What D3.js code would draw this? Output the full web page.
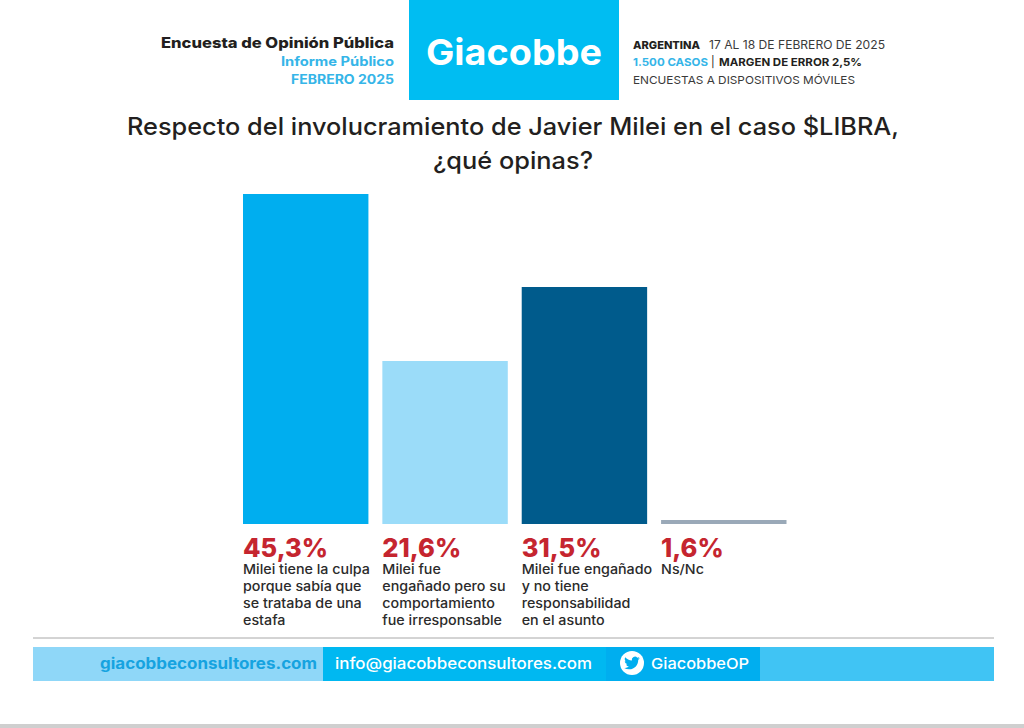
<!DOCTYPE html>
<html><head><meta charset="utf-8">
<script src="https://cdn.jsdelivr.net/npm/d3@7"></script>
<style>html,body{margin:0;padding:0;background:#fff;overflow:hidden}svg{display:block}text{font-family:Inter,Roboto,sans-serif}</style>
</head><body><svg id="c" width="1024" height="728"></svg>
<script>
const categories = ["Milei tiene la culpa|porque sabía que|se trataba de una|estafa","Milei fue|engañado pero su|comportamiento|fue irresponsable","Milei fue engañado|y no tiene|responsabilidad|en el asunto","Ns/Nc"];
const values = [45.3,21.6,31.5,1.6];
const barColors = ["#00aeef","#9bdcf9","#005b8c","#9aa9b8"];
const titleLines = ["Respecto del involucramiento de Javier Milei en el caso $LIBRA,","¿qué opinas?"];
const svg = d3.select("#c");
const fmt = v => String(v).replace(".",",")+"%";

function txt(x,y,s,size,weight,fill,anchor,width){
  const t = svg.append("text").attr("x",x).attr("y",y).attr("font-size",size).attr("font-weight",weight)
    .attr("fill",fill).attr("text-anchor",anchor||"start").text(s);
  if(width) t.attr("textLength",width).attr("lengthAdjust","spacingAndGlyphs");
  return t;
}
// bottom grey strip
svg.append("rect").attr("x",0).attr("y",724).attr("width",1024).attr("height",4).attr("fill","#cfcfcf");

// header
svg.append("rect").attr("x",409).attr("y",0).attr("width",210).attr("height",100).attr("fill","#00bdf2");
txt(426,65,"Giacobbe",36,700,"#fff","start",176);
txt(394,48,"Encuesta de Opinión Pública",14.4,800,"#231f20","end",233);
txt(394,66,"Informe Público",12.8,700,"#35b5e8","end",113);
txt(394,84,"FEBRERO 2025",12.8,700,"#35b5e8","end",103);
txt(633,49,"ARGENTINA",11,800,"#231f20","start",67);
txt(709,49,"17 AL 18 DE FEBRERO DE 2025",11.2,400,"#3a3a3a","start",176);
txt(633,66,"1.500 CASOS",11,700,"#35b5e8","start",75);
txt(711,66,"|",11,400,"#231f20");
txt(719,66,"MARGEN DE ERROR 2,5%",11,700,"#231f20","start",143);
txt(633,84,"ENCUESTAS A DISPOSITIVOS MÓVILES",11,400,"#3a3a3a","start",222);

// title
txt(513,135,titleLines[0],24,500,"#231f20","middle",772);
txt(513,169,titleLines[1],24,500,"#231f20","middle",160);

// bars: the source's bar lengths are not proportional to its labels,
// so the height scale is piecewise through the values as drawn there
const x = d3.scaleBand().domain(d3.range(values.length)).range([243,786.5]).paddingInner(0.1).paddingOuter(0);
const h = d3.scaleLinear().domain([0,1.6,21.6,31.5,45.3]).range([0,4,163,237,330]);
const baseline = 524;
svg.selectAll("rect.bar").data(values).join("rect").attr("class","bar")
  .attr("x",(d,i)=>x(i)).attr("width",x.bandwidth())
  .attr("y",d=>baseline-h(d)).attr("height",d=>h(d))
  .attr("fill",(d,i)=>barColors[i]);
svg.selectAll("text.val").data(values).join("text").attr("class","val")
  .attr("x",(d,i)=>x(i)).attr("y",557).attr("font-size",25.5).attr("font-weight",800)
  .attr("fill","#c5252f").text(fmt);
categories.forEach((c,i)=>{
  c.split("|").forEach((l,j)=>{
    const t = txt(x(i),574+j*16.9,l,13,500,"#2b2b2b");
    t.attr("textLength",t.node().getComputedTextLength()*1.1).attr("lengthAdjust","spacingAndGlyphs");
  });
});

// footer
svg.append("line").attr("x1",33).attr("x2",994).attr("y1",638).attr("y2",638).attr("stroke","#a8a8a8").attr("stroke-width",1);
[[33,323,"#8fd7f8"],[323,606,"#00b8f1"],[606,760,"#00aeef"],[760,994,"#40c4f4"]].forEach(s=>{
  svg.append("rect").attr("x",s[0]).attr("y",647).attr("width",s[1]-s[0]).attr("height",34).attr("fill",s[2]);
});
txt(317,669,"giacobbeconsultores.com",15.3,700,"#16a3e0","end",217);
txt(335,669,"info@giacobbeconsultores.com",15.3,500,"#fff","start",257);
txt(651,669,"GiacobbeOP",15,500,"#fff","start",98);
svg.append("circle").attr("cx",632).attr("cy",663).attr("r",12).attr("fill","#fff");
svg.append("path").attr("transform","translate(624.2,655.2) scale(0.65)").attr("fill","#00aeef")
  .attr("d","M23.95 4.57a10 10 0 0 1-2.82.78 4.96 4.96 0 0 0 2.16-2.72c-.95.55-2 .95-3.12 1.18a4.92 4.92 0 0 0-8.38 4.48C7.69 8.1 4.07 6.13 1.64 3.16a4.93 4.93 0 0 0 1.52 6.57 4.9 4.9 0 0 1-2.23-.62v.06a4.92 4.92 0 0 0 3.95 4.83 5 5 0 0 1-2.21.08 4.94 4.94 0 0 0 4.6 3.42A9.87 9.87 0 0 1 0 19.54a13.94 13.94 0 0 0 7.55 2.21c9.05 0 14-7.5 14-14l-.02-.64a10 10 0 0 0 2.42-2.54z");
</script></body></html>
